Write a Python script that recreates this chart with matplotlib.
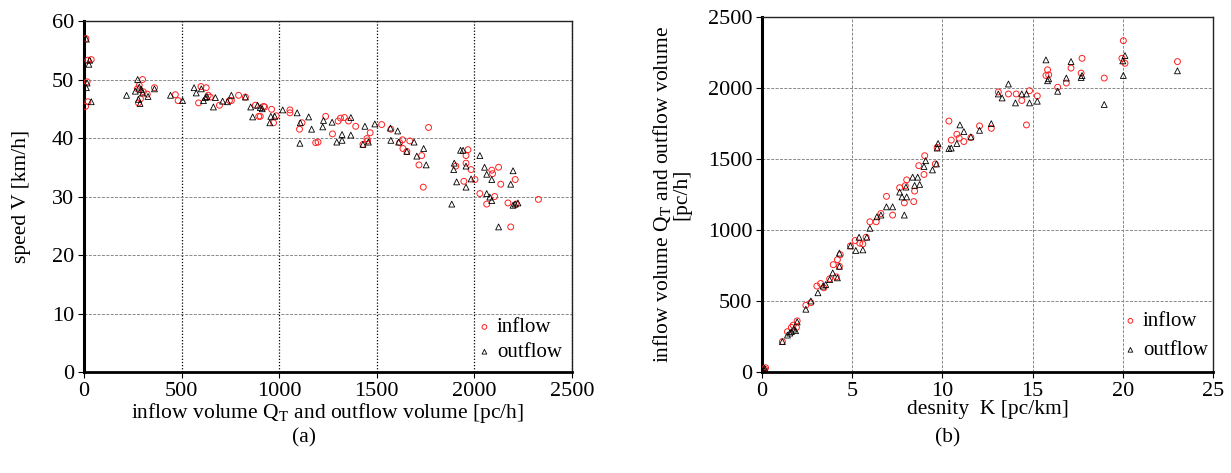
import matplotlib
matplotlib.use("Agg")
import matplotlib.pyplot as plt

plt.rcParams['font.family'] = ['Liberation Serif', 'DejaVu Serif']
plt.rcParams['mathtext.fontset'] = 'stix'

# ---- panel (a): volume vs speed ----
a_in_q = [10, 16, 8, 20, 37, 20, 300, 283, 273, 279, 289, 304, 324, 361, 468, 482, 587, 599, 626, 636,
          647, 694, 745, 755, 792, 827, 878, 895, 903, 920, 925, 961, 971, 985, 1055, 1055, 1104, 1117,
          1187, 1199, 1238, 1273, 1302, 1314, 1334, 1355, 1392, 1429, 1449, 1453, 1466, 1525, 1572,
          1617, 1632, 1634, 1654, 1669, 1716, 1730, 1738, 1765, 1905, 1946, 1957, 1957, 1967, 1983,
          2003, 2028, 2063, 2089, 2093, 2104, 2124, 2135, 2172, 2186, 2209, 2213, 2328]
a_in_v = [57.0, 49.6, 45.4, 46.2, 53.4, 53.3, 50.0, 49.0, 48.4, 46.0, 46.7, 47.9, 47.5, 48.6, 47.4, 46.4,
          46.0, 48.8, 48.6, 47.3, 47.0, 45.6, 46.4, 46.4, 47.3, 47.0, 45.6, 43.7, 43.7, 45.4, 45.3, 44.9,
          42.6, 43.8, 44.8, 44.3, 41.5, 42.6, 39.2, 39.3, 43.7, 40.7, 42.9, 43.4, 43.5, 42.9, 42.0, 38.9,
          39.9, 39.5, 40.9, 42.3, 41.5, 39.2, 39.7, 38.2, 37.7, 39.5, 35.4, 37.0, 31.6, 41.8, 35.2, 32.6,
          37.0, 35.7, 38.0, 34.6, 32.9, 30.5, 28.7, 34.5, 33.9, 30.0, 35.0, 32.1, 28.9, 24.8, 32.9, 28.7,
          29.5]
a_out_q = [12, 16, 12, 29, 25, 37, 218, 263, 275, 283, 279, 287, 294, 300, 328, 361, 443, 505, 564, 575,
           601, 612, 622, 630, 663, 673, 710, 735, 755, 827, 854, 864, 889, 903, 913, 952, 957, 977, 1018,
           1092, 1106, 1108, 1151, 1166, 1223, 1227, 1271, 1295, 1322, 1322, 1367, 1367, 1429, 1439, 1457,
           1490, 1570, 1572, 1607, 1612, 1654, 1691, 1705, 1740, 1753, 1884, 1897, 1894, 1909, 1929, 1942,
           1957, 1957, 1983, 2028, 2052, 2063, 2063, 2079, 2089, 2089, 2124, 2186, 2198, 2198, 2209, 2223]
a_out_v = [56.9, 49.4, 48.6, 53.3, 52.6, 46.2, 47.3, 48.0, 50.0, 48.7, 46.6, 45.9, 48.3, 47.7, 47.1, 48.4,
           47.3, 46.4, 48.6, 47.7, 48.4, 46.4, 46.9, 47.1, 45.3, 46.9, 46.3, 46.2, 47.3, 47.0, 45.3, 43.6,
           45.6, 45.2, 45.0, 42.6, 43.7, 43.7, 44.8, 44.3, 39.1, 42.6, 43.6, 41.5, 41.9, 43.0, 42.7, 39.3,
           39.6, 40.6, 40.5, 43.5, 38.9, 42.0, 39.3, 42.4, 41.7, 39.6, 41.2, 39.3, 37.7, 39.3, 36.9, 38.2,
           35.4, 28.7, 35.7, 34.6, 32.5, 37.9, 37.9, 31.6, 35.2, 33.0, 37.0, 35.0, 33.8, 30.5, 29.9, 32.9,
           29.3, 24.8, 32.1, 34.4, 28.5, 28.7, 28.9]

# ---- panel (b): density vs volume ----
b_in_k = [0.1, 0.15, 0.2, 0.1, 1.13, 1.41, 1.63, 1.73, 1.91, 1.95, 2.43, 2.71, 3.04, 3.25, 3.43, 3.75,
          3.95, 4.12, 4.18, 4.29, 4.34, 4.90, 5.16, 5.42, 5.59, 5.77, 5.98, 6.33, 6.59, 6.90, 7.24, 7.63,
          7.89, 7.94, 8.02, 8.41, 8.46, 8.69, 8.98, 9.02, 9.61, 9.71, 10.36, 10.49, 10.80, 10.93, 11.19,
          11.58, 12.06, 12.71, 13.10, 13.66, 14.09, 14.40, 14.66, 14.83, 15.26, 15.74, 15.83, 15.89,
          16.39, 16.87, 17.13, 17.69, 17.74, 18.97, 19.95, 20.03, 20.12, 23.03]
b_in_q = [10, 20, 30, 5, 214, 284, 314, 330, 314, 360, 470, 488, 605, 623, 593, 656, 756, 670, 791, 744,
          826, 888, 926, 907, 902, 949, 1058, 1058, 1116, 1237, 1105, 1298, 1191, 1312, 1353, 1200, 1274,
          1453, 1391, 1523, 1465, 1581, 1767, 1633, 1674, 1647, 1623, 1651, 1733, 1716, 1972, 1958, 1958,
          1912, 1740, 1981, 1944, 2088, 2128, 2093, 2005, 2035, 2140, 2105, 2209, 2070, 2209, 2333, 2174,
          2186]
b_out_k = [0.0, 0.05, 0.1, 0.15, 1.13, 1.41, 1.54, 1.63, 1.76, 1.86, 1.95, 2.43, 2.71, 3.10, 3.38, 3.53,
           3.75, 3.92, 4.18, 4.29, 4.29, 4.90, 5.20, 5.38, 5.59, 5.81, 5.98, 6.37, 6.59, 6.90, 7.24, 7.63,
           7.76, 7.89, 7.98, 8.02, 8.35, 8.46, 8.63, 8.74, 8.98, 9.07, 9.45, 9.67, 9.71, 9.76, 10.36, 10.49,
           10.80, 10.97, 11.19, 11.58, 12.06, 12.71, 13.10, 13.31, 13.66, 14.05, 14.40, 14.66, 14.83, 15.26,
           15.74, 15.83, 15.89, 16.39, 16.87, 17.13, 17.69, 17.74, 18.97, 20.00, 20.03, 20.12, 23.03]
b_out_q = [0, 10, 15, 25, 214, 260, 274, 284, 302, 291, 353, 442, 500, 558, 605, 616, 651, 698, 663, 837,
           744, 888, 856, 949, 860, 949, 1012, 1093, 1105, 1163, 1163, 1267, 1233, 1105, 1302, 1233, 1372,
           1314, 1372, 1321, 1447, 1488, 1423, 1465, 1577, 1609, 1574, 1577, 1609, 1740, 1693, 1656, 1702,
           1749, 1958, 1930, 2028, 1895, 1958, 1958, 1895, 1907, 2198, 2051, 2065, 1977, 2070, 2186, 2074,
           2088, 1884, 2191, 2088, 2228, 2121]

W, H = 1231, 473
fig = plt.figure(figsize=(W / 100, H / 100), dpi=100)

ax1 = fig.add_axes([84 / W, 1 - 372 / H, (572 - 84) / W, (372 - 21) / H])
ax2 = fig.add_axes([762 / W, 1 - 372 / H, (1213 - 762) / W, (372 - 17) / H])

mk_in = dict(marker='o', s=18, facecolors='none', edgecolors='#ff2020', linewidths=0.7)
mk_out = dict(marker='^', s=18, facecolors='none', edgecolors='black', linewidths=0.6)

for ax in (ax1, ax2):
    ax.set_axisbelow(True)
    for side in ('top', 'right'):
        ax.spines[side].set_linewidth(1.0)
        ax.spines[side].set_color('#222222')
    ax.spines['left'].set_linewidth(2.2)
    ax.spines['bottom'].set_linewidth(2.0)
    ax.tick_params(direction='out', length=4, width=0.8, labelsize=16, pad=3)

# panel (a)
ax1.scatter(a_in_q, a_in_v, label='inflow', zorder=3, **mk_in)
ax1.scatter(a_out_q, a_out_v, label='outflow', zorder=3, **mk_out)
ax1.set_xlim(0, 2500)
ax1.set_ylim(0, 60)
ax1.set_xticks([0, 500, 1000, 1500, 2000, 2500])
ax1.set_yticks([0, 10, 20, 30, 40, 50, 60])
ax1.grid(axis='x', color='black', linestyle=(0, (1, 1.5)), linewidth=0.9)
ax1.grid(axis='y', color='#888888', linestyle=(0, (3, 1.5)), linewidth=0.7)
ax1.set_xlabel(r'inflow volume Q$_{\mathrm{T}}$ and outflow volume [pc/h]', fontsize=15.5)
ax1.xaxis.set_label_coords(0.5, -(413 - 372) / 351, transform=ax1.transAxes)
ax1.set_ylabel('speed V [km/h]', fontsize=15.5)
ax1.yaxis.set_label_coords(-(84 - 22) / 488, 0.5)
ax1.xaxis.label.set_va('center')
ax1.yaxis.label.set_va('center')
ax1.legend(loc='center left', bbox_to_anchor=((474 - 84) / 488, 1 - (340 - 21) / 351), frameon=False,
           fontsize=15, handletextpad=0.1, borderaxespad=0.0, borderpad=0.0, labelspacing=0.25,
           handlelength=1.0, markerscale=0.8)
fig.text(304 / W, 1 - 438 / H, '(a)', ha='center', va='center', fontsize=15.5)

# panel (b)
ax2.scatter(b_in_k, b_in_q, label='inflow', zorder=3, **mk_in)
ax2.scatter(b_out_k, b_out_q, label='outflow', zorder=3, **mk_out)
ax2.set_xlim(0, 25)
ax2.set_ylim(0, 2500)
ax2.set_xticks([0, 5, 10, 15, 20, 25])
ax2.set_yticks([0, 500, 1000, 1500, 2000, 2500])
ax2.grid(color='#888888', linestyle=(0, (3, 1.5)), linewidth=0.7)
ax2.set_xlabel('desnity  K [pc/km]', fontsize=15.5)
ax2.xaxis.set_label_coords(0.5, -(409 - 372) / 355, transform=ax2.transAxes)
ax2.set_ylabel('inflow volume Q$_{\\mathrm{T}}$ and outflow volume\n[pc/h]', fontsize=15.5,
               linespacing=0.95)
ax2.yaxis.set_label_coords(-(762 - 671) / 451, 0.5)
ax2.xaxis.label.set_va('center')
ax2.yaxis.label.set_va('center')
ax2.legend(loc='center left', bbox_to_anchor=((1120 - 762) / 451, 1 - (336 - 17) / 355), frameon=False,
           fontsize=15, handletextpad=0.1, borderaxespad=0.0, borderpad=0.0, labelspacing=0.45,
           handlelength=1.0, markerscale=0.8)
fig.text(948 / W, 1 - 438 / H, '(b)', ha='center', va='center', fontsize=15.5)

fig.savefig('out.png', dpi=100)
